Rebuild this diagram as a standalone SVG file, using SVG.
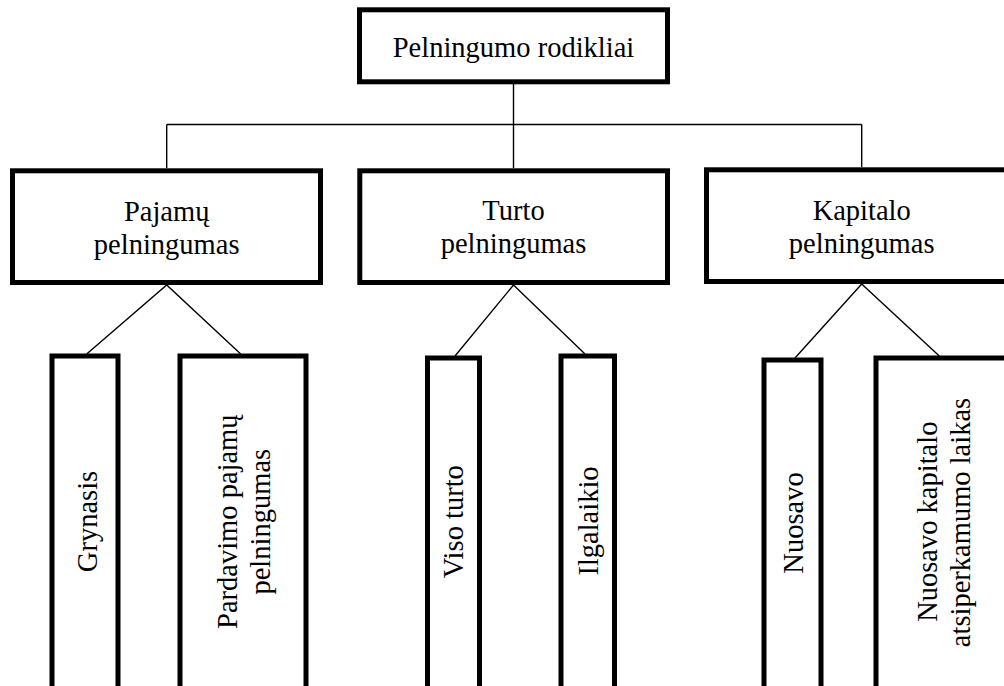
<svg xmlns="http://www.w3.org/2000/svg" width="1004" height="686" viewBox="0 0 1004 686">
<style>
.box{fill:#fff;stroke:#000;stroke-width:5}
.ln{fill:none;stroke:#000;stroke-width:1.4}
text{font-family:"Liberation Serif","Times New Roman",serif;font-size:28.5px;fill:#000;text-anchor:middle}
</style>
<rect width="1004" height="686" fill="#fff"/>
<g id="connectors">
<line class="ln" x1="513.5" y1="84" x2="513.5" y2="168"/>
<line class="ln" x1="166.7" y1="124.5" x2="861.7" y2="124.5"/>
<line class="ln" x1="166.7" y1="124.5" x2="166.7" y2="168"/>
<line class="ln" x1="861.7" y1="124.5" x2="861.7" y2="167"/>
<polyline class="ln" points="86.7,354 166.7,285 240.7,354"/>
<polyline class="ln" points="455,356 513.5,285 585,354"/>
<polyline class="ln" points="795,358 861.7,284 939.3,356"/>
</g>
<g id="root">
<rect class="box" x="359.5" y="9.8" width="308" height="72"/>
<text x="513.5" y="57">Pelningumo rodikliai</text>
</g>
<g id="pajamu">
<rect class="box" x="12.5" y="170.8" width="308" height="111.7"/>
<text x="166.7" y="221">Pajamų</text>
<text x="166.7" y="254">pelningumas</text>
</g>
<g id="turto">
<rect class="box" x="359.8" y="170.8" width="307.7" height="111.7"/>
<text x="513.5" y="220">Turto</text>
<text x="513.5" y="253">pelningumas</text>
</g>
<g id="kapitalo">
<rect class="box" x="706.5" y="169.8" width="320" height="111.7"/>
<text x="861.7" y="220">Kapitalo</text>
<text x="861.7" y="253">pelningumas</text>
</g>
<g id="grynasis">
<rect class="box" x="52" y="356" width="66" height="370"/>
<text transform="translate(97,521.5) rotate(-90)">Grynasis</text>
</g>
<g id="pardavimo">
<rect class="box" x="180" y="356" width="126" height="370"/>
<text transform="translate(236.5,521.7) rotate(-90)">Pardavimo pajamų</text>
<text transform="translate(269.5,521.7) rotate(-90)">pelningumas</text>
</g>
<g id="viso-turto">
<rect class="box" x="427.5" y="358" width="52" height="370"/>
<text transform="translate(463,521.7) rotate(-90)">Viso turto</text>
</g>
<g id="ilgalaikio">
<rect class="box" x="561" y="356" width="53.5" height="370"/>
<text transform="translate(597.5,521) rotate(-90)">Ilgalaikio</text>
</g>
<g id="nuosavo">
<rect class="box" x="764" y="360" width="57" height="370"/>
<text transform="translate(802.5,523) rotate(-90)">Nuosavo</text>
</g>
<g id="nuosavo-kapitalo">
<rect class="box" x="876" y="358" width="150" height="370"/>
<text transform="translate(936.5,521.7) rotate(-90)">Nuosavo kapitalo</text>
<text transform="translate(969.5,522.5) rotate(-90)">atsiperkamumo laikas</text>
</g>
</svg>
